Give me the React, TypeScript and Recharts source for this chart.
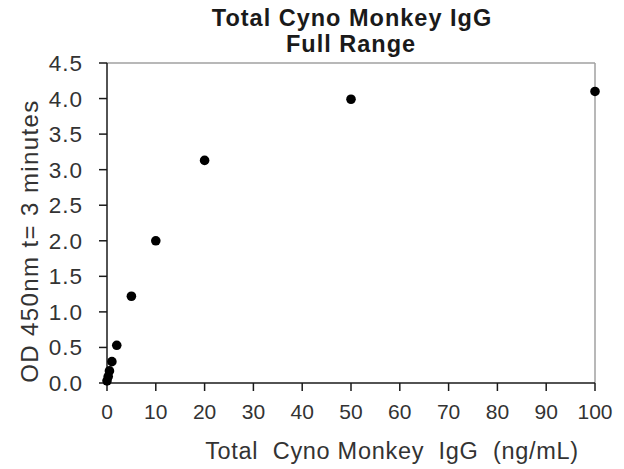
import React from "react";
import { ScatterChart, Scatter, XAxis, YAxis, ReferenceLine } from "recharts";

const concentrations = [0, 0.25, 0.5, 1, 2, 5, 10, 20, 50, 100];
const odValues = [0.03, 0.09, 0.17, 0.3, 0.53, 1.22, 2.0, 3.13, 3.99, 4.1];
const xTicks = [0, 10, 20, 30, 40, 50, 60, 70, 80, 90, 100];
const yTicks = [0, 0.5, 1, 1.5, 2, 2.5, 3, 3.5, 4, 4.5];
const titleLines = ["Total Cyno Monkey IgG", "Full Range"];
const xTitle = "Total  Cyno Monkey  IgG  (ng/mL)";
const yTitle = "OD 450nm t= 3 minutes";

const data = concentrations.map((x, i) => ({ x, y: odValues[i] }));

const FONT = "'Liberation Sans', Arial, sans-serif";
const TEXT = "#333333";

export default function App() {
  return (
    <div style={{ position: "absolute", left: 0, top: 0, width: 624, height: 469, background: "#fff" }}>
      <ScatterChart width={624} height={469} margin={{ top: 63, right: 29, bottom: 0, left: 0 }}>
        <XAxis
          type="number"
          dataKey="x"
          domain={[0, 100]}
          ticks={xTicks}
          height={86}
          tickSize={8}
          tickMargin={13}
          interval={0}
          stroke="#1a1a1a"
          strokeWidth={1.5}
          tick={{ fill: TEXT, fontSize: 21, fontFamily: FONT }}
        />
        <YAxis
          type="number"
          dataKey="y"
          domain={[0, 4.5]}
          ticks={yTicks}
          width={107}
          tickSize={8}
          tickMargin={16}
          interval={0}
          stroke="#1a1a1a"
          strokeWidth={1.5}
          tickFormatter={(v: number) => v.toFixed(1)}
          tick={{ fill: TEXT, fontSize: 22.5, fontFamily: FONT, letterSpacing: 1 }}
        />
        <ReferenceLine y={4.5} stroke="#a0a0a0" strokeWidth={1.5} />
        <ReferenceLine x={100} stroke="#a0a0a0" strokeWidth={1.5} />
        <Scatter data={data} fill="#000" isAnimationActive={false} shape={(p: any) => <circle cx={p.cx} cy={p.cy} r={4.8} fill="#000" />} />
      </ScatterChart>
      <svg width={624} height={469} style={{ position: "absolute", left: 0, top: 0, pointerEvents: "none" }}>
        <text x={352} y={26} textAnchor="middle" fontFamily={FONT} fontWeight="bold" fontSize={23.5} letterSpacing={1} fill="#1a1a1a">
          {titleLines[0]}
        </text>
        <text x={351} y={52} textAnchor="middle" fontFamily={FONT} fontWeight="bold" fontSize={23.5} letterSpacing={1} fill="#1a1a1a">
          {titleLines[1]}
        </text>
        <text x={392} y={459} textAnchor="middle" fontFamily={FONT} fontSize={23.5} letterSpacing={0.7} fill={TEXT} style={{ whiteSpace: "pre" }}>
          {xTitle}
        </text>
        <text x={38} y={241} textAnchor="middle" transform="rotate(-90 38 241)" fontFamily={FONT} fontSize={24} letterSpacing={1.4} fill={TEXT}>
          {yTitle}
        </text>
      </svg>
    </div>
  );
}
